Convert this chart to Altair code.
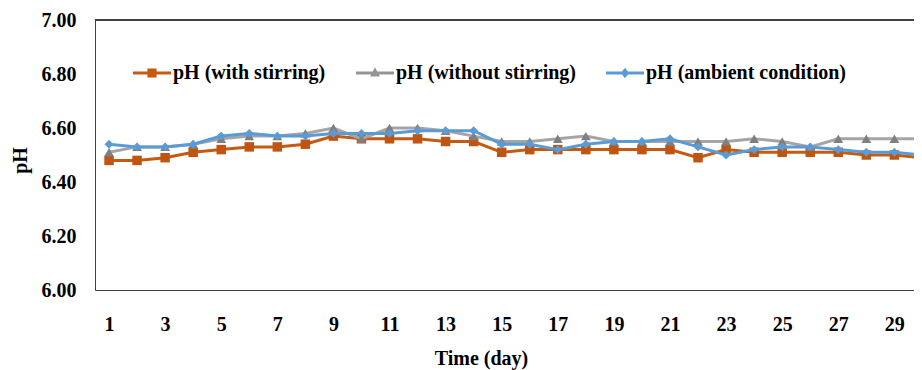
import altair as alt
import pandas as pd

days = list(range(1, 31))
series_names = ["pH (with stirring)", "pH (without stirring)", "pH (ambient condition)"]
with_stirring = [6.48, 6.48, 6.49, 6.51, 6.52, 6.53, 6.53, 6.54, 6.57, 6.56,
                 6.56, 6.56, 6.55, 6.55, 6.51, 6.52, 6.52, 6.52, 6.52, 6.52,
                 6.52, 6.49, 6.52, 6.51, 6.51, 6.51, 6.51, 6.50, 6.50, 6.49]
without_stirring = [6.51, 6.53, 6.53, 6.54, 6.56, 6.57, 6.57, 6.58, 6.60, 6.56,
                    6.60, 6.60, 6.59, 6.57, 6.55, 6.55, 6.56, 6.57, 6.55, 6.55,
                    6.55, 6.55, 6.55, 6.56, 6.55, 6.53, 6.56, 6.56, 6.56, 6.56]
ambient = [6.54, 6.53, 6.53, 6.54, 6.57, 6.58, 6.57, 6.57, 6.58, 6.58,
           6.58, 6.59, 6.59, 6.59, 6.54, 6.54, 6.52, 6.54, 6.55, 6.55,
           6.56, 6.53, 6.50, 6.52, 6.53, 6.53, 6.52, 6.51, 6.51, 6.50]
x_ticks = list(range(1, 30, 2))
y_ticks = [6.0, 6.2, 6.4, 6.6, 6.8, 7.0]
y_max = 7.0

line_colors = ["#C55A11", "#A5A5A5", "#5B9BD5"]
marker_colors = ["#C05511", "#7F7F7F", "#5B9BD5"]
legend_colors = ["#C55A11", "#959595", "#5B9BD5"]
marker_shapes = ["square", "triangle-up", "diamond"]
marker_sizes = [90, 95, 80]
legend_paths = [
    "M-1,-0.08H1V0.08H-1Z M-0.24,-0.24H0.24V0.24H-0.24Z",
    "M-1,-0.08H1V0.08H-1Z M0,-0.3L0.26,0.18L-0.26,0.18Z",
    "M-1,-0.08H1V0.08H-1Z M0,-0.27L0.22,0L0,0.27L-0.22,0Z",
]

rows = []
for name, vals in zip(series_names, [with_stirring, without_stirring, ambient]):
    for d, v in zip(days, vals):
        rows.append({"day": d, "pH": v, "series": name})
df = pd.DataFrame(rows)

FONT = "Liberation Serif"

x_bottom = alt.X("day:Q", scale=alt.Scale(domain=[0.5, 29.7], nice=False, zero=False),
                 axis=alt.Axis(values=x_ticks, title="Time (day)", grid=False, ticks=False,
                               tickSize=0, labelPadding=24, labelFont=FONT, labelFontSize=20,
                               labelFontWeight="bold", labelColor="black", titleFont=FONT,
                               titleFontSize=20, titleFontWeight="bold", titleColor="black",
                               titleX=386, titleY=68, titleBaseline="middle", titleAlign="center",
                               domainColor="#404040", domainWidth=1, labelFlush=False))
y_enc = alt.Y("pH:Q", scale=alt.Scale(domain=[6.0, 7.0], nice=False, zero=False),
              axis=alt.Axis(values=y_ticks, format=".2f", title="pH", grid=False, ticks=False,
                            tickSize=0, labelPadding=19, labelFont=FONT, labelFontSize=20,
                            labelFontWeight="bold", labelColor="black", titleFont=FONT,
                            titleFontSize=20, titleFontWeight="bold", titleColor="black",
                            titleX=-75, titleY=140, titleAngle=270, titleBaseline="middle",
                            titleAlign="center", domainColor="#404040", domainWidth=1,
                            labelFlush=False))

base = alt.Chart(df)
layers = []
for i, name in enumerate(series_names):
    sub = base.transform_filter(alt.datum.series == name)
    layers.append(sub.mark_line(color=line_colors[i], strokeWidth=3, clip=True)
                  .encode(x=x_bottom, y=y_enc))
    layers.append(sub.mark_point(shape=marker_shapes[i], filled=True, size=marker_sizes[i],
                                 color=marker_colors[i], opacity=1, clip=True)
                  .encode(x="day:Q", y="pH:Q"))

top_border = base.mark_rule(color="#404040", strokeWidth=1).encode(y=alt.datum(y_max))

legend_layer = base.transform_filter("false").mark_point(filled=True, size=1444, opacity=1).encode(
    x="day:Q",
    y="pH:Q",
    color=alt.Color("series:N", scale=alt.Scale(domain=series_names, range=legend_colors),
                    legend=alt.Legend(orient="none", legendX=38, legendY=34, direction="horizontal",
                                      title=None, labelFont=FONT, labelFontSize=20,
                                      labelFontWeight="bold", labelColor="black", labelOffset=2,
                                      labelLimit=0, columnPadding=30, symbolSize=1444,
                                      symbolStrokeWidth=0, symbolOpacity=1, padding=0)),
    shape=alt.Shape("series:N", scale=alt.Scale(domain=series_names, range=legend_paths)),
)

chart = alt.layer(*layers, top_border, legend_layer).properties(
    width=819, height=270,
    autosize=alt.AutoSizeParams(type="none"),
    padding={"left": 87, "top": 12, "right": 0, "bottom": 80},
).configure_view(stroke=None).configure(background="white")

chart.save("out.html", embed_options={"renderer": "svg", "actions": False})
